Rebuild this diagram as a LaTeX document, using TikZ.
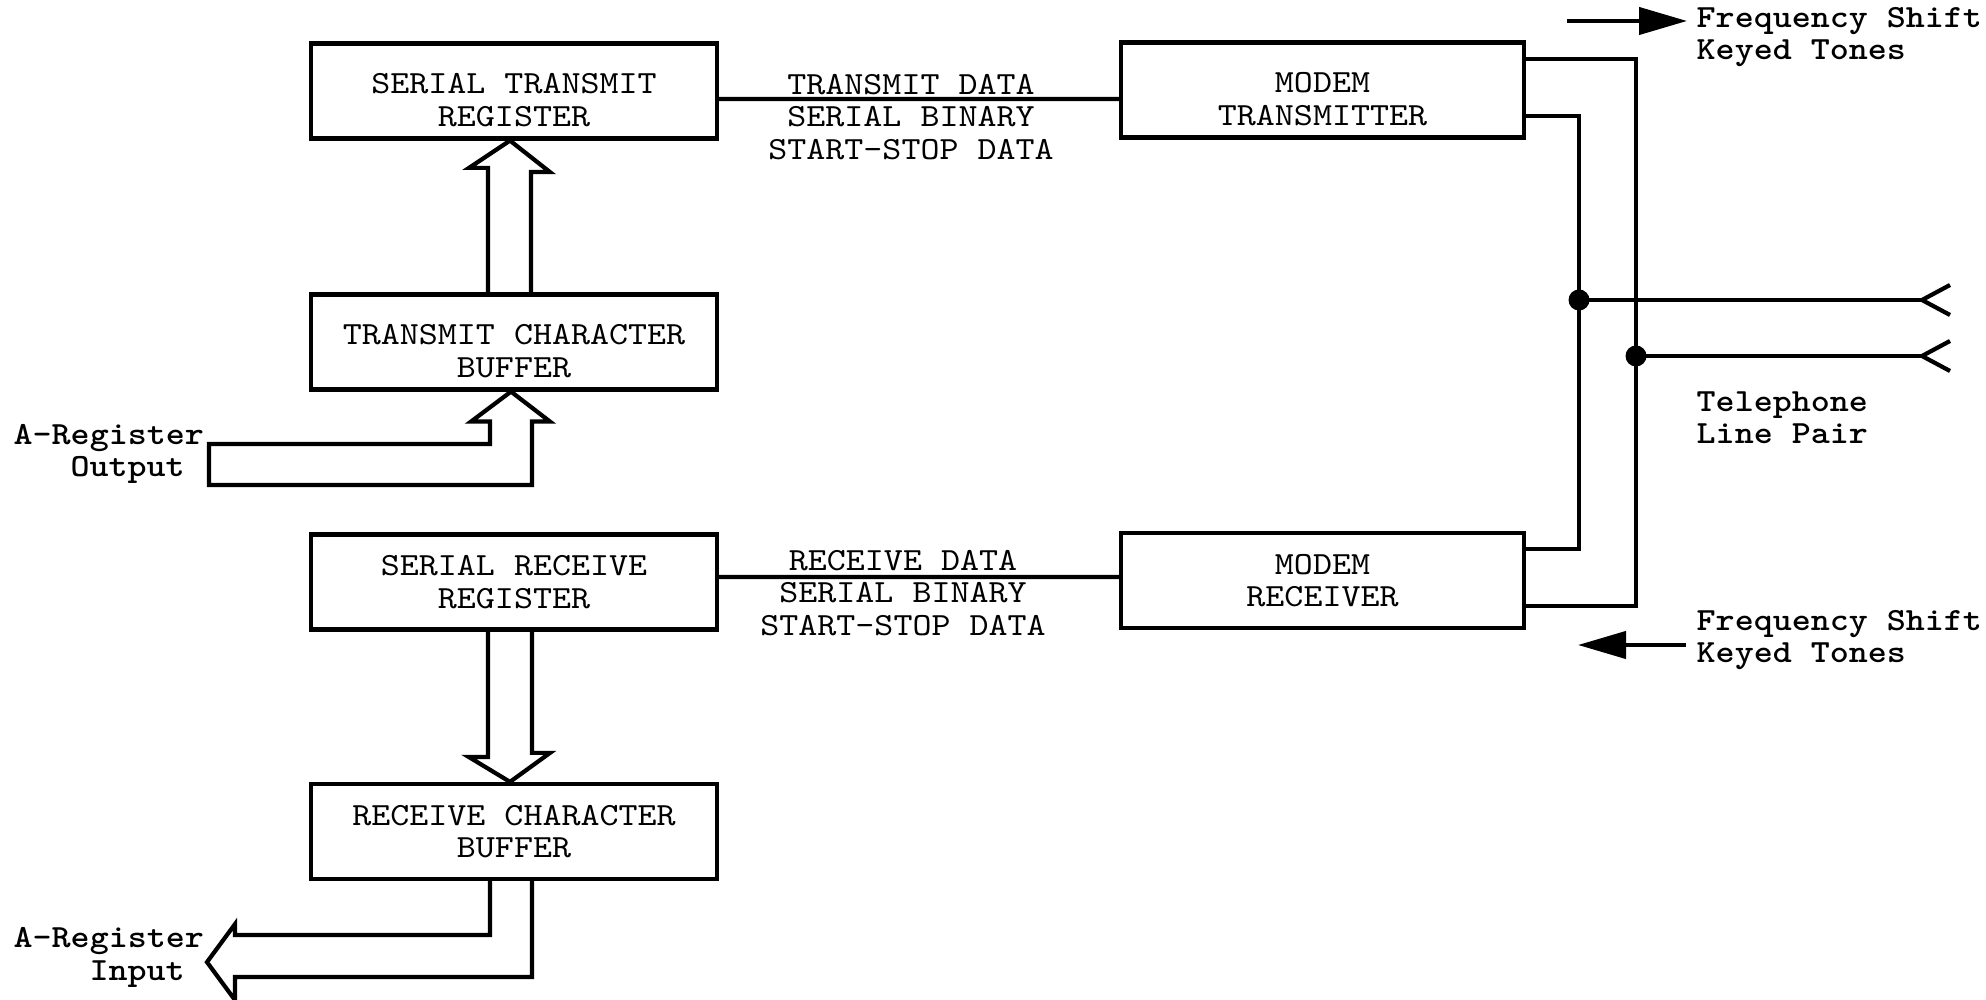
\documentclass[tikz,border=0pt]{standalone}
\usepackage{fontspec}
\setmonofont{lmmono10-regular.otf}[BoldFont=lmmonolt10-bold.otf, FakeStretch=1.12]
\usetikzlibrary{arrows.meta,calc,positioning}

\begin{document}
\begin{tikzpicture}[
		block/.style={draw, line width=1.2pt, minimum width=4.06cm, minimum height=0.95cm, align=center},
		wire/.style={line width=1.2pt},
		bus/.style={line width=1.2pt},
		tag/.style={font=\ttfamily\bfseries\fontsize{9.2}{9.2}\selectfont, inner sep=0pt, align=left},
		tone/.style={line width=1.2pt, -{Triangle[length=4.8mm,width=2.7mm]}}
	]
			\tikzstyle{every node}=[font=\ttfamily\fontsize{9.2}{9.2}\selectfont]
			\useasboundingbox (0,0) rectangle (19.86,-10);
			% register and buffer blocks
			\node[block] (str) at (5.14,-0.91) {\rule{0pt}{11pt}SERIAL TRANSMIT\\REGISTER};
			\node[block] (tcb) at (5.14,-3.42) {\rule{0pt}{11pt}TRANSMIT CHARACTER\\BUFFER};
			\node[block] (srr) at (5.14,-5.82) {SERIAL RECEIVE\\REGISTER};
			\node[block] (rcb) at (5.14,-8.315) {RECEIVE CHARACTER\\BUFFER};
			\node[block, minimum width=4.03cm] (mtx) at (13.225,-0.90) {\rule{0pt}{11pt}MODEM\\TRANSMITTER};
			\node[block, minimum width=4.03cm] (mrx) at (13.225,-5.805) {MODEM\\RECEIVER};
			% serial data lines
			\draw[wire] ([yshift=-0.8mm]str.east) -- ([yshift=-0.9mm]mtx.west)
				node[midway, xshift=-0.8mm, yshift=-1.8mm, align=center, inner sep=0pt] (txdata) {TRANSMIT DATA\\SERIAL BINARY\\START-STOP DATA};
			\draw[wire] ([yshift=0.5mm]srr.east) -- ([yshift=0.35mm]mrx.west)
				node[midway, xshift=-1.6mm, yshift=-1.6mm, align=center, inner sep=0pt] (rxdata) {RECEIVE DATA\\SERIAL BINARY\\START-STOP DATA};
			% wide bus arrows
			\draw[bus] ([xshift=-2.6mm]tcb.north) -- ++(0,1.245) -- ++(-0.19,0) -- ([xshift=-0.4mm]str.south)
				-- ++(0.40,-0.315) -- ++(-0.19,0) -- ++(0,-1.245);
			\draw[bus] ([xshift=-0.3mm]tcb.south) -- ++(0.39,-0.30) -- ++(-0.18,0) -- ++(0,-0.635) -- ++(-3.23,0)
				-- ++(0,0.41) -- ++(2.81,0) -- ++(0,0.225) -- ++(-0.19,0) -- cycle;
			\draw[bus] ([xshift=-2.6mm]srr.south) -- ++(0,-1.255) -- ++(-0.19,0) -- ([xshift=-0.4mm]rcb.north)
				-- ++(0.40,0.29) -- ++(-0.18,0) -- ++(0,1.255);
			\draw[bus] ([xshift=-2.4mm]rcb.south) -- ++(0,-0.54) -- ++(-2.55,0) -- ++(0,0.11) -- ++(-0.28,-0.38)
				-- ++(0.28,-0.38) -- ++(0,0.23) -- ++(2.97,0) -- ++(0,0.96);
			\node[tag, anchor=west] (outtag) at (0.13,-4.54) {A-Register\\\hspace*{1.76em}Output};
			\node[tag, anchor=west] (intag) at (0.13,-9.575) {A-Register\\\hspace*{2.35em}Input};
			% modem wiring to the line pair
			\coordinate (inner) at (15.79,0);
			\coordinate (outer) at (16.36,0);
			\coordinate (mt1) at ([yshift=3.1mm]mtx.east);
			\coordinate (mt2) at ([yshift=-2.6mm]mtx.east);
			\coordinate (mr1) at ([yshift=3.15mm]mrx.east);
			\coordinate (mr2) at ([yshift=-2.55mm]mrx.east);
			\draw[wire] (mt1) -| (outer |- mr2) -- (mr2);
			\draw[wire] (mt2) -| (inner |- mr1) -- (mr1);
			\coordinate (tip1) at (19.22,-3.00);
			\coordinate (tip2) at (19.22,-3.56);
			\fill (inner |- tip1) circle (0.105);
			\fill (outer |- tip2) circle (0.105);
			\draw[wire] (inner |- tip1) -- (tip1);
			\draw[wire] (outer |- tip2) -- (tip2);
			\foreach \t in {tip1,tip2}
				\draw[wire] ([shift={(0.28,0.15)}]\t) -- (\t) -- ([shift={(0.28,-0.15)}]\t);
			\node[tag, anchor=west] (tel) at (16.96,-4.18) {Telephone\\Line Pair};
			% tone arrows
			\coordinate (txtail) at (15.67,-0.21);
			\coordinate (txhead) at (16.87,-0.21);
			\draw[tone] (txtail) -- (txhead);
			\node[tag, anchor=west] (fsktx) at (16.96,-0.37) {Frequency Shift\\Keyed Tones};
			\coordinate (rxtail) at (16.86,-6.45);
			\coordinate (rxhead) at (15.78,-6.45);
			\draw[tone] (rxtail) -- (rxhead);
			\node[tag, anchor=west] (fskrx) at (16.96,-6.40) {Frequency Shift\\Keyed Tones};
		\end{tikzpicture}
\end{document}
